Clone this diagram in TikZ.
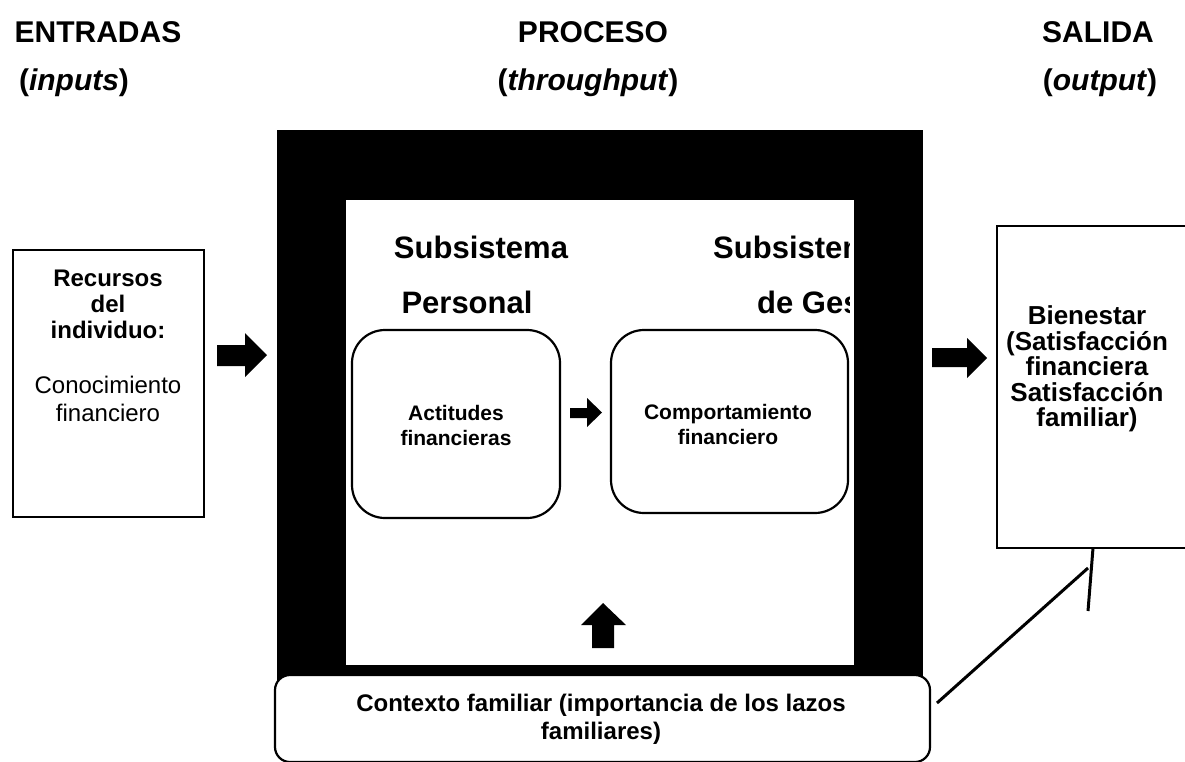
\documentclass[tikz,border=0pt]{standalone}
\usepackage{fontspec}
\setmainfont{Liberation Sans}
\begin{document}
\begin{tikzpicture}[x=1pt,y=-1pt,
  lbl/.style={inner sep=0pt, align=center},
  title/.style={lbl, font=\fontsize{30}{36}\selectfont\bfseries},
  subt/.style={lbl, font=\fontsize{31}{36}\selectfont\bfseries},
  box/.style={draw, line width=2.2pt, fill=white, inner sep=0pt},
  rbox/.style={box, rounded corners=33pt},
  conn/.style={line width=3pt},
  blk/.style={fill=black}]
\useasboundingbox (0,0) rectangle (1185,761);
\begin{scope}
\clip (0,0) rectangle (1185,761);
% titles
\node[title] (t1) at (98,32) {ENTRADAS};
\node[title] (t1b) at (74,83) {(\textit{inputs})};
\node[title] (t2) at (593,32) {PROCESO};
\node[title] (t2b) at (588,83) {(\textit{throughput})};
\node[title] (t3) at (1098,32) {SALIDA};
\node[title] (t3b) at (1100,83) {(\textit{output})};
% black frame
\fill[black] (277,130) rectangle (923,700);
\fill[white] (346,200) rectangle (854,665);
% subsystem titles
\node[subt] (s1a) at (481,247) {Subsistema};
\node[subt] (s1b) at (467,302) {Personal};
\begin{scope}
\clip (346,200) rectangle (849,665);
\node[subt, anchor=west] (s2a) at (713,247) {Subsistema};
\node[subt, anchor=west] (s2b) at (757,302) {de Gestión};
\end{scope}
% inner boxes
\node[rbox, minimum width=208, minimum height=188] (act) at (456,424) {};
\node[lbl, font=\fontsize{21}{25}\selectfont\bfseries] (actt) at (456,425.5) {Actitudes\\financieras};
\node[rbox, minimum width=237, minimum height=183] (comp) at (729.5,421.5) {};
\node[lbl, font=\fontsize{21}{25}\selectfont\bfseries] (compt) at (728,424) {Comportamiento\\financiero};
% left box
\node[box, minimum width=191, minimum height=267] (in) at (108.5,383.5) {};
\node[lbl, font=\fontsize{24}{26}\selectfont\bfseries] (inA) at (108,304) {Recursos\\del\\individuo:};
\node[lbl, font=\fontsize{24}{28}\selectfont] (inB) at (108,399) {Conocimiento\\financiero};
% right box
\node[box, minimum width=193, minimum height=322] (out) at (1093.5,387) {};
\node[lbl, font=\fontsize{26}{25.5}\selectfont\bfseries] (outt) at (1087,369) {Bienestar\\(Satisfacción\\financiera\\Satisfacción\\familiar)};
% context box
\node[box, rounded corners=15pt, minimum width=655, minimum height=87] (ctx) at (602.5,718.5) {};
\node[lbl, font=\fontsize{24}{28}\selectfont\bfseries] (ctxt) at (601,719) {Contexto familiar (importancia de los lazos\\familiares)};
% block arrows
\fill[blk] (217,345) -- (245,345) -- (245,333) -- (267,355) -- (245,377) -- (245,366) -- (217,366) -- cycle;
\fill[blk] (932,348) -- (967,348) -- (967,338) -- (987,358) -- (967,378) -- (967,367) -- (932,367) -- cycle;
\fill[blk] (570,408) -- (587,408) -- (587,398) -- (602,412.5) -- (587,427) -- (587,418) -- (570,418) -- cycle;
\fill[blk] (592,648) -- (592,625) -- (581,625) -- (603,603) -- (626,625) -- (614,625) -- (614,648) -- cycle;
% lines
\coordinate (d1) at (937,703);
\coordinate (d2) at (1088,568);
\coordinate (v1) at (1093,548);
\coordinate (v2) at (1088,611);
\draw[conn] (d1) -- (d2);
\draw[conn] (v1) -- (v2);
\end{scope}
\end{tikzpicture}
\end{document}
